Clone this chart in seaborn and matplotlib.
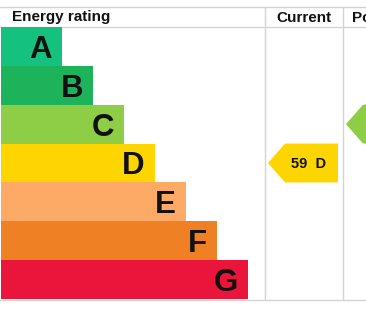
import matplotlib
matplotlib.use("Agg")
import matplotlib.pyplot as plt
from matplotlib.patches import Polygon
import seaborn as sns
import pandas as pd

# ---- data ----
bands = ["A", "B", "C", "D", "E", "F", "G"]
bar_lengths = [61, 92, 123, 154, 185, 216, 247]
band_colors = ["#14c17e", "#1cb35a", "#8dce46", "#ffd500", "#fcaa65", "#ef8023", "#e9153b"]
current_score = 59
current_band = "D"
potential_band = "C"
headers = ["Energy rating", "Current", "Potential"]

W, H = 366, 311
sns.set_theme(style="white")
plt.rcParams["font.family"] = ["Liberation Sans", "DejaVu Sans"]

fig = plt.figure(figsize=(W / 100, H / 100), dpi=100)

# overlay axes in pixel coordinates
ov = fig.add_axes([0, 0, 1, 1])
ov.set_xlim(0, W)
ov.set_ylim(H, 0)
ov.axis("off")

top, head_bot, bot = 7, 26.5, 299.5
col1, col2 = 264.5, 342.5
grid_c = "#d4d4d4"
for y in (top, head_bot, bot):
    ov.plot([0, W], [y, y], color=grid_c, lw=1)
for x in (col1, col2):
    ov.plot([x, x], [top, bot], color=grid_c, lw=1)

ov.text(12, 17.5, headers[0], fontsize=11, fontweight="bold", ha="left", va="center", color="#111111")
ov.text((col1 + col2) / 2 + 0.5, 17.5, headers[1], fontsize=11, fontweight="bold", ha="center", va="center", color="#111111")
ov.text(352, 17.5, headers[2], fontsize=11, fontweight="bold", ha="left", va="center", color="#111111")

# bar axes
y0, y1 = 27, 299
ax = fig.add_axes([0, (H - y1) / H, 1, (y1 - y0) / H])
df = pd.DataFrame({"band": bands, "length": bar_lengths})
sns.barplot(data=df, y="band", x="length", hue="band", palette=band_colors,
            orient="h", width=1.0, saturation=1, legend=False, linewidth=0, ax=ax)
ax.set_xlim(-1, W - 1)
ax.set_ylim(6.5, -0.5)
ax.axis("off")

for i, (b, L) in enumerate(zip(bands, bar_lengths)):
    ax.text(L - 10, i, b, fontsize=22.5, fontweight="bold", ha="right",
            va="center_baseline", color="#111111")

# current arrow
ci = bands.index(current_band)
hh = 0.5
cc = band_colors[ci]
poly = Polygon([(267, ci), (284, ci - hh), (337, ci - hh), (337, ci + hh), (284, ci + hh)],
               closed=True, facecolor=cc, edgecolor="none", clip_on=False)
ax.add_patch(poly)
ax.text(308, ci, f"{current_score}  {current_band}", fontsize=10.5, fontweight="bold",
        ha="center", va="center_baseline", color="#111111")

# potential arrow (mostly cropped)
pi = bands.index(potential_band)
pc = band_colors[pi]
poly2 = Polygon([(345, pi), (362, pi - hh), (420, pi - hh), (420, pi + hh), (362, pi + hh)],
                closed=True, facecolor=pc, edgecolor="none", clip_on=True)
ax.add_patch(poly2)

fig.savefig("out.png", dpi=100)
